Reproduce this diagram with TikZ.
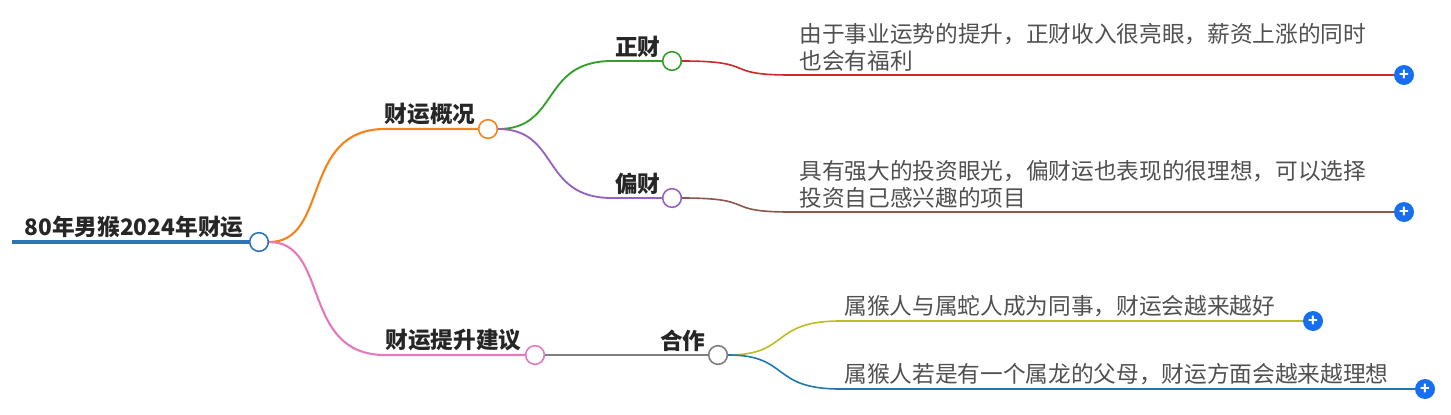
\documentclass[tikz,border=0pt]{standalone}
\usepackage{fontspec}
\setmainfont{Noto Sans CJK SC}
\usetikzlibrary{calc}
\usetikzlibrary{positioning}
\definecolor{rootblue}{RGB}{46, 117, 182}
\definecolor{orangeb}{RGB}{242, 133, 30}
\definecolor{pinkb}{RGB}{228, 122, 190}
\definecolor{greenb}{RGB}{52, 160, 44}
\definecolor{purpleb}{RGB}{150, 100, 190}
\definecolor{redb}{RGB}{206, 40, 40}
\definecolor{brownb}{RGB}{140, 86, 75}
\definecolor{grayb}{RGB}{127, 127, 127}
\definecolor{oliveb}{RGB}{188, 189, 34}
\definecolor{blueb}{RGB}{31, 119, 180}
\definecolor{plusblue}{RGB}{22, 110, 240}
\definecolor{leaftext}{RGB}{80, 80, 80}
\tikzset{
  dot/.style={circle, draw=#1, fill=white, line width=1.2pt, minimum size=14pt, inner sep=0pt},
  plus/.style={circle, fill=plusblue, minimum size=15pt, inner sep=0pt, text=white, font=\bfseries\large},
  topic/.style={font=\bfseries\fontsize{17}{19}\selectfont, text=black!85, anchor=south east, inner sep=1pt},
  leaf/.style={font=\fontsize{17}{20}\selectfont, text=leaftext, anchor=south west, align=left, inner sep=1pt}
}
\begin{document}
\begin{tikzpicture}[x=0.75pt, y=-0.75pt]
            \useasboundingbox (0,0) rectangle (1451,414);
            % Root
            \draw[rootblue, line width=3pt] (12,242) -- (259,242);
            \node[topic] (root) at (245,240) {80年男猴2024年财运};
            \node[dot=rootblue] (c0) at (259,242) {};
            % First level
            \draw[orangeb, line width=1.6pt] (c0) .. controls (330,242) and (300,129) .. (385,129) -- (488,129);
            \draw[pinkb, line width=1.6pt] (c0) .. controls (330,242) and (300,355) .. (385,355) -- (535,355);
            \node[topic] (gk) at (477,127) {财运概况};
            \node[topic] (ts) at (523,353) {财运提升建议};
            \node[dot=orangeb] (c1) at (488,129) {};
            \node[dot=pinkb] (c2) at (535,355) {};
            % Second level
            \draw[greenb, line width=1.4pt] (c1) .. controls (560,129) and (540,61) .. (612,61) -- (672,61);
            \draw[purpleb, line width=1.4pt] (c1) .. controls (560,129) and (540,198) .. (612,198) -- (672,198);
            \draw[grayb, line width=1.4pt] (c2) -- (718,355);
            \node[topic] (zc) at (662,59) {正财};
            \node[topic] (pc) at (662,196) {偏财};
            \node[topic] (hz) at (707,353) {合作};
            \node[dot=greenb] (c3) at (672,61) {};
            \node[dot=purpleb] (c4) at (672,198) {};
            \node[dot=grayb] (c5) at (718,355) {};
            % Leaves
            \node[plus] (p1) at (1404,75) {+};
            \node[plus] (p2) at (1404,212) {+};
            \node[plus] (p3) at (1313,321) {+};
            \node[plus] (p4) at (1425,389) {+};
            \draw[redb, line width=1.2pt] (c3) .. controls (760,61) and (720,75) .. (790,75) -- (p1);
            \draw[brownb, line width=1.2pt] (c4) .. controls (760,198) and (720,212) .. (790,212) -- (p2);
            \draw[oliveb, line width=1.2pt] (c5) .. controls (790,355) and (770,321) .. (840,321) -- (p3);
            \draw[blueb, line width=1.2pt] (c5) .. controls (790,355) and (770,389) .. (840,389) -- (p4);
            \node[leaf] (t1) at (798,73) {由于事业运势的提升，正财收入很亮眼，薪资上涨的同时\\也会有福利};
            \node[leaf] (t2) at (798,210) {具有强大的投资眼光，偏财运也表现的很理想，可以选择\\投资自己感兴趣的项目};
            \node[leaf] (t3) at (843,319) {属猴人与属蛇人成为同事，财运会越来越好};
            \node[leaf] (t4) at (843,387) {属猴人若是有一个属龙的父母，财运方面会越来越理想};
\end{tikzpicture}
\end{document}
